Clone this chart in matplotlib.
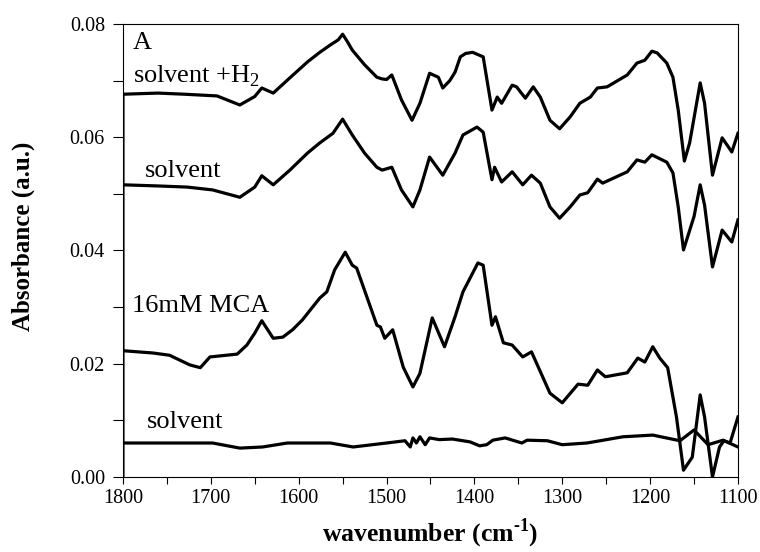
import matplotlib
matplotlib.use("Agg")
import matplotlib.pyplot as plt
from matplotlib.ticker import MultipleLocator, FormatStrFormatter

plt.rcParams['font.family'] = ['Liberation Serif', 'DejaVu Serif']
plt.rcParams['mathtext.fontset'] = 'custom'
plt.rcParams['mathtext.rm'] = 'Liberation Serif:bold'
plt.rcParams['mathtext.bf'] = 'Liberation Serif:bold'

# solvent + H2 (first point closes the trace down to the baseline at 1800)
wn_h2 = [1800, 1800, 1760, 1730, 1693, 1667, 1650, 1642, 1629, 1610, 1590, 1576,
         1564, 1555, 1550, 1545, 1539, 1525, 1511, 1505, 1500, 1494, 1483, 1471,
         1462, 1451, 1441, 1436, 1428, 1422, 1416, 1410, 1402, 1390, 1380, 1374,
         1369, 1357, 1352, 1342, 1333, 1325, 1314, 1303, 1291, 1280, 1268, 1260,
         1249, 1226, 1215, 1206, 1198, 1192, 1181, 1174, 1168, 1161, 1155, 1143,
         1138, 1129, 1118, 1107, 1100]
abs_h2 = [0.0, 0.0676, 0.0678, 0.0676, 0.0673, 0.0657, 0.0672, 0.0687, 0.0678,
          0.0705, 0.0733, 0.0750, 0.0763, 0.0772, 0.0782, 0.0770, 0.0754, 0.0728,
          0.0706, 0.0703, 0.0702, 0.0710, 0.0666, 0.0630, 0.0660, 0.0713, 0.0706,
          0.0687, 0.0700, 0.0715, 0.0742, 0.0748, 0.0750, 0.0742, 0.0648, 0.0671,
          0.0660, 0.0692, 0.0689, 0.0669, 0.0689, 0.0671, 0.0630, 0.0615, 0.0636,
          0.0660, 0.0671, 0.0687, 0.0689, 0.0710, 0.0731, 0.0736, 0.0752, 0.0749,
          0.0731, 0.0706, 0.0648, 0.0558, 0.0590, 0.0696, 0.0660, 0.0533, 0.0599,
          0.0574, 0.0607]

# solvent
wn_solv = [1800, 1760, 1727, 1698, 1667, 1650, 1642, 1629, 1610, 1590, 1576, 1561,
           1550, 1539, 1525, 1511, 1505, 1494, 1483, 1470, 1462, 1451, 1436, 1422,
           1413, 1397, 1390, 1380, 1377, 1369, 1357, 1345, 1335, 1325, 1314, 1303,
           1291, 1280, 1271, 1260, 1254, 1226, 1215, 1206, 1198, 1181, 1174, 1168,
           1162, 1150, 1143, 1138, 1129, 1118, 1107, 1100]
abs_solv = [0.0516, 0.0514, 0.0512, 0.0507, 0.0494, 0.0512, 0.0532, 0.0516, 0.0542,
            0.0572, 0.0590, 0.0607, 0.0632, 0.0604, 0.0572, 0.0547, 0.0542, 0.0547,
            0.0507, 0.0477, 0.0507, 0.0565, 0.0533, 0.0572, 0.0604, 0.0618, 0.0609,
            0.0525, 0.0547, 0.0521, 0.0539, 0.0516, 0.0533, 0.0519, 0.0477, 0.0457,
            0.0477, 0.0498, 0.0502, 0.0526, 0.0519, 0.0539, 0.0560, 0.0556, 0.0569,
            0.0556, 0.0537, 0.0477, 0.0401, 0.0460, 0.0516, 0.0480, 0.0371, 0.0436,
            0.0415, 0.0454]

# 16 mM MCA
wn_mca = [1800, 1766, 1747, 1724, 1712, 1701, 1670, 1659, 1650, 1642, 1629, 1618,
          1607, 1596, 1576, 1568, 1559, 1547, 1539, 1534, 1511, 1507, 1502, 1493,
          1481, 1470, 1462, 1448, 1434, 1422, 1413, 1396, 1390, 1380, 1376, 1367,
          1357, 1345, 1335, 1314, 1300, 1282, 1271, 1260, 1251, 1226, 1214, 1206,
          1197, 1189, 1180, 1170, 1162, 1152, 1143, 1138, 1129, 1121, 1116, 1109,
          1100]
abs_mca = [0.0223, 0.0219, 0.0215, 0.0198, 0.0193, 0.0212, 0.0217, 0.0233, 0.0254,
           0.0276, 0.0245, 0.0247, 0.0260, 0.0277, 0.0316, 0.0327, 0.0366, 0.0397,
           0.0374, 0.0369, 0.0268, 0.0265, 0.0245, 0.0260, 0.0194, 0.0159, 0.0183,
           0.0281, 0.0230, 0.0283, 0.0327, 0.0378, 0.0374, 0.0268, 0.0283, 0.0237,
           0.0233, 0.0212, 0.0221, 0.0148, 0.0131, 0.0164, 0.0162, 0.0189, 0.0177,
           0.0184, 0.0210, 0.0203, 0.0230, 0.0210, 0.0193, 0.0106, 0.0012, 0.0035,
           0.0145, 0.0106, 0.0000, 0.0053, 0.0064, 0.0060, 0.0106]

# solvent reference (bottom)
wn_ref = [1800, 1730, 1698, 1667, 1641, 1613, 1564, 1538, 1500, 1479, 1473, 1470,
          1466, 1462, 1456, 1451, 1440, 1425, 1405, 1394, 1386, 1379, 1365, 1346,
          1340, 1317, 1300, 1272, 1257, 1231, 1197, 1166, 1150, 1134, 1117, 1100]
abs_ref = [0.0060, 0.0060, 0.0060, 0.0051, 0.0053, 0.0060, 0.0060, 0.0053, 0.0060,
           0.0064, 0.0053, 0.0069, 0.0060, 0.0071, 0.0057, 0.0069, 0.0066, 0.0067,
           0.0062, 0.0055, 0.0057, 0.0065, 0.0069, 0.0060, 0.0065, 0.0064, 0.0057,
           0.0060, 0.0064, 0.0071, 0.0074, 0.0064, 0.0083, 0.0057, 0.0065, 0.0053]

fig = plt.figure(figsize=(7.6, 5.52), dpi=100)
ax = fig.add_axes([0.1618, 0.1359, 0.8092, 0.8206])

for wn, a in [(wn_h2, abs_h2), (wn_solv, abs_solv), (wn_mca, abs_mca), (wn_ref, abs_ref)]:
    ax.plot(wn, a, color='black', lw=2.3, solid_joinstyle='round')

ax.set_xlim(1800, 1100)
ax.set_ylim(0, 0.08)
ax.xaxis.set_major_locator(MultipleLocator(100))
ax.xaxis.set_minor_locator(MultipleLocator(50))
ax.yaxis.set_major_locator(MultipleLocator(0.02))
ax.yaxis.set_minor_locator(MultipleLocator(0.01))
ax.yaxis.set_major_formatter(FormatStrFormatter('%.2f'))
ax.tick_params(which='both', direction='out', width=0.8, labelsize=14.5, colors='black')
ax.tick_params(axis='y', which='both', length=7, pad=6)
ax.tick_params(axis='x', which='both', length=5, pad=4)
for sp in ax.spines.values():
    sp.set_linewidth(0.8)

ax.set_xlabel(r'wavenumber (cm$^{\text{-1}}$)', fontsize=18.5, fontweight='bold', labelpad=6)
ax.set_ylabel('Absorbance (a.u.)', fontsize=18, fontweight='bold')
ax.yaxis.set_label_coords(-0.143, 0.532)

txt = dict(fontsize=19, ha='left', va='baseline')
ax.text(1788.5, 0.0755, 'A', **txt)
ax.text(1788.5, 0.0696, r'solvent +H$_{\mathregular{2}}$', **txt)
ax.text(1775, 0.0530, 'solvent', **txt)
ax.text(1790, 0.0291, '16mM MCA', **txt)
ax.text(1773, 0.00865, 'solvent', **txt)

fig.savefig('out.png', dpi=100)
